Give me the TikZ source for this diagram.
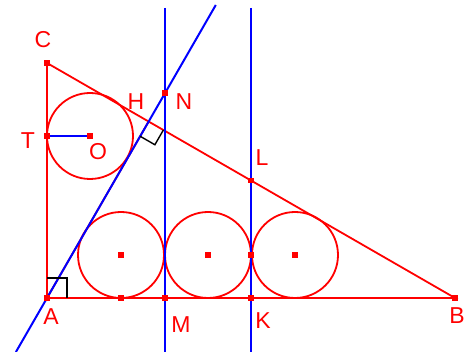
\documentclass[tikz,border=0pt]{standalone}
\usepackage{fontspec}
\setmainfont{Liberation Sans}
\usetikzlibrary{calc}
\begin{document}
\begin{tikzpicture}[x=1pt,y=-1pt,
  redl/.style={draw=red,line width=1.8pt},
  bluel/.style={draw=blue,line width=2pt},
  rmark/.style={draw=black,line width=1.4pt},
  pt/.style={fill=red,draw=none,minimum size=5.5pt,inner sep=0pt,rectangle},
  lbl/.style={text=red,font=\fontsize{23}{23}\selectfont,inner sep=0pt}]
\useasboundingbox (0,0) rectangle (469,352);
% triangle vertices
\coordinate (A) at (47,298);
\coordinate (B) at (455,298);
\coordinate (C) at (47,63);
\coordinate (H) at ($(C)!(A)!(B)$);
\coordinate (N) at (165,93.2);
\coordinate (L) at (251,180.5);
\coordinate (M) at (165,298);
\coordinate (K) at (251,298);
\coordinate (T) at (47,136);
\coordinate (O) at (90,136);
\coordinate (O1) at (121,255);
\coordinate (O2) at (208,255);
\coordinate (O3) at (295,255);
\coordinate (P1) at (121,298);
\coordinate (P2) at (251,255);
\coordinate (Ntop) at (165,8);
\coordinate (Nbot) at (165,352);
\coordinate (Ktop) at (251,8);
\coordinate (Kbot) at (251,352);
\coordinate (Dbot) at (15.9,352);
\coordinate (Dtop) at (215.8,5);
\coordinate (Q1) at ($(H)!17pt!(B)$);
\coordinate (Q2) at ($(H)!17pt!(A)$);
\coordinate (Q3) at ($(Q1)+(Q2)-(H)$);
% red figure
\draw[redl] (C) -- (A) -- (B) -- cycle;
\draw[redl] (A) -- (H);
\draw[redl] (O) circle (43);
\draw[redl] (O1) circle (43);
\draw[redl] (O2) circle (43);
\draw[redl] (O3) circle (43);
% blue lines
\draw[bluel] (Dbot) -- (Dtop);
\draw[bluel] (Ntop) -- (Nbot);
\draw[bluel] (Ktop) -- (Kbot);
\draw[bluel] (T) -- (O);
% right-angle marks
\draw[rmark] (Q1) -- (Q3) -- (Q2);
\draw[rmark] (47,278) -- (67,278) -- (67,298);
% points
\foreach \p in {A,B,C,N,L,M,K,T,O,O1,O2,O3,P1,P2}
  \node[pt] (pt\p) at (\p) {};
% labels
\node[lbl] (lC) at (43,40) {C};
\node[lbl] (lH) at (136,102) {H};
\node[lbl] (lN) at (184,102) {N};
\node[lbl] (lT) at (28,141) {T};
\node[lbl] (lO) at (98,152) {O};
\node[lbl] (lA) at (51,317) {A};
\node[lbl] (lM) at (181,325) {M};
\node[lbl] (lL) at (262,158) {L};
\node[lbl] (lK) at (263,321) {K};
\node[lbl] (lB) at (457,316) {B};
\end{tikzpicture}
\end{document}
